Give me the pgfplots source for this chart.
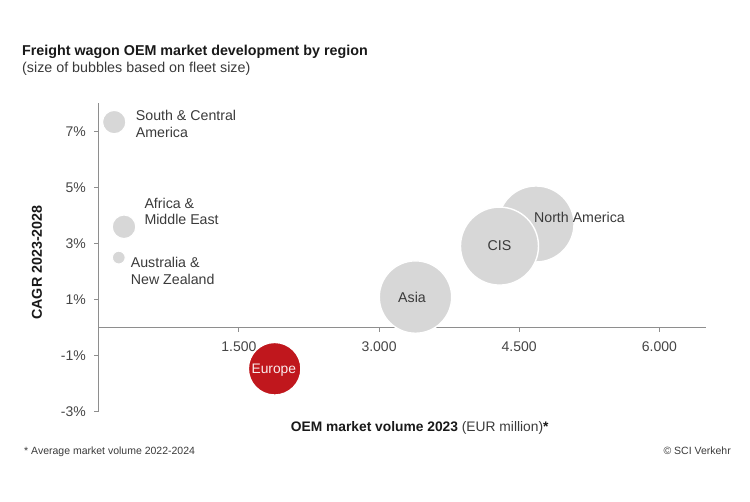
\documentclass[border=0pt]{standalone}
\usepackage{pgfplots}
\pgfplotsset{compat=1.18}
\usepackage{fontspec}
\setmainfont{Liberation Sans}

\definecolor{bubblegray}{HTML}{D7D7D7}
\definecolor{euro}{HTML}{C0171D}
\definecolor{axisgray}{HTML}{8E8E8E}
\definecolor{labeltext}{HTML}{3A3A3A}
\definecolor{ticktext}{HTML}{454545}

\begin{document}
\begin{tikzpicture}
% page frame: 750 x 501, measured from the top left corner
\begin{scope}[x=1pt,y=-1pt,yshift=501pt]
  \path[use as bounding box] (0,0) rectangle (750,501);
\end{scope}

\begin{axis}[
  at={(98.7pt,89.7pt)}, anchor=south west,
  scale only axis, width=607.4pt, height=308pt,
  xmin=0, xmax=6500, ymin=-3, ymax=8,
  clip=false,
  axis y line=left, axis x line=middle,
  axis line style={draw=none},
  tick align=outside,
  major tick length=4.5pt,
  tick style={axisgray, line width=0.9pt},
  xtick={1500,3000,4500,6000},
  xticklabels={1.500,3.000,4.500,6.000},
  ytick={-3,-1,1,3,5,7},
  yticklabels={-3\%,-1\%,1\%,3\%,5\%,7\%},
  xticklabel style={font=\fontsize{14}{16}\selectfont, text=ticktext, inner sep=0pt, anchor=base, yshift=-19.7pt},
  yticklabel style={font=\fontsize{14}{16}\selectfont, text=ticktext, inner sep=0pt, anchor=east, xshift=-8.2pt},
]
% axis lines, drawn underneath the bubbles
\draw[axisgray, line width=1.3pt] (axis cs:0,-3) -- (axis cs:0,8);
\draw[axisgray, line width=1.3pt] (axis cs:0,0) -- (axis cs:6500,0);

% bubbles: (OEM market volume, CAGR), radius from fleet size
\addplot[only marks, mark=*, mark size=11.7pt, mark options={fill=bubblegray, draw=white, line width=1.2pt}] coordinates {(166,7.33)};   % South & Central America
\addplot[only marks, mark=*, mark size=11.8pt, mark options={fill=bubblegray, draw=white, line width=1.2pt}] coordinates {(271,3.59)};   % Africa & Middle East
\addplot[only marks, mark=*, mark size=6.4pt, mark options={fill=bubblegray, draw=white, line width=1.0pt}] coordinates {(215,2.49)};    % Australia & New Zealand
\addplot[only marks, mark=*, mark size=36.2pt, mark options={fill=bubblegray, draw=white, line width=1.4pt}] coordinates {(3390,1.08)};  % Asia
\addplot[only marks, mark=*, mark size=38pt, mark options={fill=bubblegray, draw=white, line width=1.4pt}] coordinates {(4680,3.69)};    % North America
\addplot[only marks, mark=*, mark size=39pt, mark options={fill=bubblegray, draw=white, line width=1.4pt}] coordinates {(4289,2.90)};    % CIS
\addplot[only marks, mark=*, mark size=26.3pt, mark options={fill=euro, draw=white, line width=1.4pt}] coordinates {(1883,-1.48)};      % Europe

% anchor points for the bubble labels
\coordinate (lSCA1) at (axis cs:396,7.368);
\coordinate (lSCA2) at (axis cs:396,6.771);
\coordinate (lAME1) at (axis cs:488,4.243);
\coordinate (lAME2) at (axis cs:488,3.654);
\coordinate (lANZ1) at (axis cs:342,2.118);
\coordinate (lANZ2) at (axis cs:342,1.529);
\coordinate (lAsia) at (axis cs:3353,1.082);
\coordinate (lCIS)  at (axis cs:4289,2.929);
\coordinate (lNA)   at (axis cs:5145,3.939);
\coordinate (lEur)  at (axis cs:1874,-1.643);
\end{axis}

% bubble labels, set on top of the bubbles
\begin{scope}[every node/.style={font=\fontsize{14.2}{17}\selectfont, text=labeltext, inner sep=0pt}]
  \node[anchor=base west] at (lSCA1) {South \& Central};
  \node[anchor=base west] at (lSCA2) {America};
  \node[anchor=base west] at (lAME1) {Africa \&};
  \node[anchor=base west] at (lAME2) {Middle East};
  \node[anchor=base west] at (lANZ1) {Australia \&};
  \node[anchor=base west] at (lANZ2) {New Zealand};
  \node[anchor=center] at (lAsia) {Asia};
  \node[anchor=center] at (lCIS) {CIS};
  \node[anchor=center] at (lNA) {North America};
  \node[anchor=base, text=white!92!euro, font=\fontsize{13.8}{17}\selectfont] at (lEur) {Europe};
\end{scope}

% titles, axis titles and notes
\begin{scope}[x=1pt,y=-1pt,yshift=501pt]
  \node[anchor=base west, inner sep=0pt, font=\bfseries\fontsize{14.3}{17}\selectfont, text=black!90] at (22,56) {Freight wagon OEM market development by region};
  \node[anchor=base west, inner sep=0pt, font=\fontsize{14.3}{17}\selectfont, text=labeltext] at (22,72.5) {(size of bubbles based on fleet size)};
  \node[anchor=center, rotate=90, inner sep=0pt, font=\bfseries\fontsize{14.3}{17}\selectfont, text=black!90] at (37,262.5) {CAGR 2023-2028};
  \node[anchor=base, inner sep=0pt, font=\fontsize{13.8}{17}\selectfont, text=black!90] at (419.7,431) {\textbf{OEM market volume 2023} {\color{labeltext}(EUR million)}\textbf{*}};
  \node[anchor=base west, inner sep=0pt, font=\fontsize{10.5}{12}\selectfont, text=labeltext] at (24,455) {* Average market volume 2022-2024};
  \node[anchor=base east, inner sep=0pt, font=\fontsize{10.5}{12}\selectfont, text=labeltext] at (731,455) {© SCI Verkehr};
\end{scope}
\end{tikzpicture}
\end{document}
